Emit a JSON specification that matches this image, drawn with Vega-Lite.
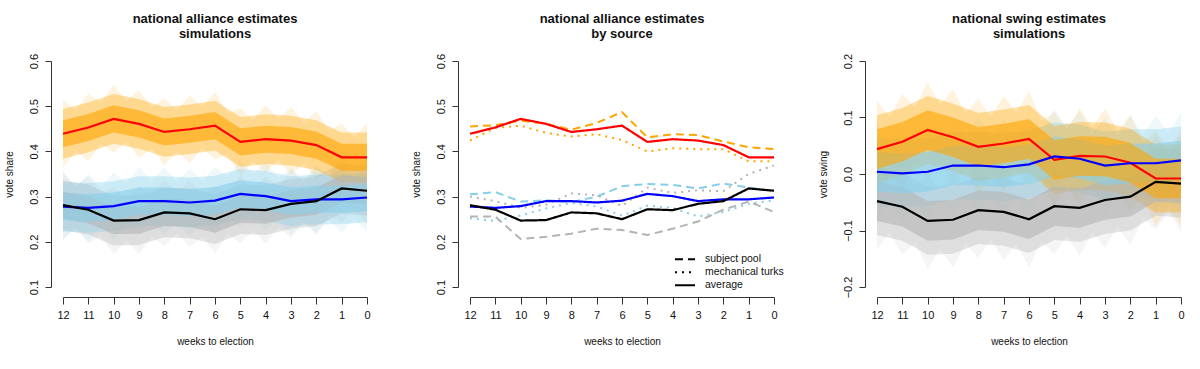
{
"$schema": "https://vega.github.io/schema/vega-lite/v6.json",
"background": "white",
"padding": {"left": 4, "top": 13, "right": 0, "bottom": 0},
"bounds": "flush",
"spacing": 103,
"config": {
  "view": {"stroke": null},
  "font": "Liberation Sans",
  "axis": {"labelFont": "Liberation Sans", "titleFont": "Liberation Sans", "labelFontSize": 11, "titleFontSize": 10, "titleFontWeight": "normal", "domainColor": "#333", "tickColor": "#333", "labelColor": "#111", "titleColor": "#111", "grid": false},
  "title": {"font": "Liberation Sans", "fontSize": 13, "fontWeight": "bold", "lineHeight": 15, "offset": 12, "color": "#111", "frame": "group", "anchor": "middle"}
},
"datasets": {
  "b1": [
    {"l":"o","s":"gray","w":12,"v":0.206,"v2":0.356},{"l":"o","s":"gray","w":11.5,"v":0.231,"v2":0.321},{"l":"o","s":"gray","w":11,"v":0.196,"v2":0.346},{"l":"o","s":"gray","w":10.5,"v":0.214,"v2":0.304},{"l":"o","s":"gray","w":10,"v":0.172,"v2":0.322},{"l":"o","s":"gray","w":9.5,"v":0.203,"v2":0.293},{"l":"o","s":"gray","w":9,"v":0.173,"v2":0.323},{"l":"o","s":"gray","w":8.5,"v":0.212,"v2":0.302},{"l":"o","s":"gray","w":8,"v":0.19,"v2":0.34},{"l":"o","s":"gray","w":7.5,"v":0.219,"v2":0.309},{"l":"o","s":"gray","w":7,"v":0.188,"v2":0.338},{"l":"o","s":"gray","w":6.5,"v":0.212,"v2":0.302},{"l":"o","s":"gray","w":6,"v":0.175,"v2":0.325},{"l":"o","s":"gray","w":5.5,"v":0.216,"v2":0.306},{"l":"o","s":"gray","w":5,"v":0.197,"v2":0.347},{"l":"o","s":"gray","w":4.5,"v":0.226,"v2":0.316},{"l":"o","s":"gray","w":4,"v":0.195,"v2":0.345},{"l":"o","s":"gray","w":3.5,"v":0.232,"v2":0.322},{"l":"o","s":"gray","w":3,"v":0.209,"v2":0.359},{"l":"o","s":"gray","w":2.5,"v":0.242,"v2":0.332},{"l":"o","s":"gray","w":2,"v":0.215,"v2":0.365},{"l":"o","s":"gray","w":1.5,"v":0.259,"v2":0.349},{"l":"o","s":"gray","w":1,"v":0.243,"v2":0.393},{"l":"o","s":"gray","w":0.5,"v":0.271,"v2":0.361},{"l":"o","s":"gray","w":0,"v":0.238,"v2":0.388},
    {"l":"o","s":"skyblue","w":12,"v":0.203,"v2":0.353},{"l":"o","s":"skyblue","w":11.5,"v":0.232,"v2":0.322},{"l":"o","s":"skyblue","w":11,"v":0.2,"v2":0.35},{"l":"o","s":"skyblue","w":10.5,"v":0.232,"v2":0.322},{"l":"o","s":"skyblue","w":10,"v":0.204,"v2":0.354},{"l":"o","s":"skyblue","w":9.5,"v":0.24,"v2":0.33},{"l":"o","s":"skyblue","w":9,"v":0.215,"v2":0.365},{"l":"o","s":"skyblue","w":8.5,"v":0.245,"v2":0.335},{"l":"o","s":"skyblue","w":8,"v":0.215,"v2":0.365},{"l":"o","s":"skyblue","w":7.5,"v":0.244,"v2":0.334},{"l":"o","s":"skyblue","w":7,"v":0.212,"v2":0.362},{"l":"o","s":"skyblue","w":6.5,"v":0.244,"v2":0.334},{"l":"o","s":"skyblue","w":6,"v":0.216,"v2":0.366},{"l":"o","s":"skyblue","w":5.5,"v":0.254,"v2":0.344},{"l":"o","s":"skyblue","w":5,"v":0.231,"v2":0.381},{"l":"o","s":"skyblue","w":4.5,"v":0.259,"v2":0.349},{"l":"o","s":"skyblue","w":4,"v":0.226,"v2":0.376},{"l":"o","s":"skyblue","w":3.5,"v":0.251,"v2":0.341},{"l":"o","s":"skyblue","w":3,"v":0.215,"v2":0.365},{"l":"o","s":"skyblue","w":2.5,"v":0.247,"v2":0.337},{"l":"o","s":"skyblue","w":2,"v":0.219,"v2":0.369},{"l":"o","s":"skyblue","w":1.5,"v":0.249,"v2":0.339},{"l":"o","s":"skyblue","w":1,"v":0.219,"v2":0.369},{"l":"o","s":"skyblue","w":0.5,"v":0.251,"v2":0.341},{"l":"o","s":"skyblue","w":0,"v":0.223,"v2":0.373},
    {"l":"o","s":"orange","w":12,"v":0.364,"v2":0.514},{"l":"o","s":"orange","w":11.5,"v":0.401,"v2":0.491},{"l":"o","s":"orange","w":11,"v":0.378,"v2":0.528},{"l":"o","s":"orange","w":10.5,"v":0.418,"v2":0.508},{"l":"o","s":"orange","w":10,"v":0.397,"v2":0.547},{"l":"o","s":"orange","w":9.5,"v":0.422,"v2":0.512},{"l":"o","s":"orange","w":9,"v":0.386,"v2":0.536},{"l":"o","s":"orange","w":8.5,"v":0.407,"v2":0.497},{"l":"o","s":"orange","w":8,"v":0.368,"v2":0.518},{"l":"o","s":"orange","w":7.5,"v":0.401,"v2":0.491},{"l":"o","s":"orange","w":7,"v":0.374,"v2":0.524},{"l":"o","s":"orange","w":6.5,"v":0.408,"v2":0.498},{"l":"o","s":"orange","w":6,"v":0.382,"v2":0.532},{"l":"o","s":"orange","w":5.5,"v":0.394,"v2":0.484},{"l":"o","s":"orange","w":5,"v":0.346,"v2":0.496},{"l":"o","s":"orange","w":4.5,"v":0.379,"v2":0.469},{"l":"o","s":"orange","w":4,"v":0.352,"v2":0.502},{"l":"o","s":"orange","w":3.5,"v":0.381,"v2":0.471},{"l":"o","s":"orange","w":3,"v":0.349,"v2":0.499},{"l":"o","s":"orange","w":2.5,"v":0.374,"v2":0.464},{"l":"o","s":"orange","w":2,"v":0.339,"v2":0.489},{"l":"o","s":"orange","w":1.5,"v":0.356,"v2":0.446},{"l":"o","s":"orange","w":1,"v":0.312,"v2":0.462},{"l":"o","s":"orange","w":0.5,"v":0.342,"v2":0.432},{"l":"o","s":"orange","w":0,"v":0.312,"v2":0.462},
    {"l":"m","s":"gray","w":12,"v":0.226,"v2":0.336},{"l":"m","s":"gray","w":11,"v":0.216,"v2":0.326},{"l":"m","s":"gray","w":10,"v":0.192,"v2":0.302},{"l":"m","s":"gray","w":9,"v":0.193,"v2":0.303},{"l":"m","s":"gray","w":8,"v":0.21,"v2":0.32},{"l":"m","s":"gray","w":7,"v":0.208,"v2":0.318},{"l":"m","s":"gray","w":6,"v":0.195,"v2":0.305},{"l":"m","s":"gray","w":5,"v":0.217,"v2":0.327},{"l":"m","s":"gray","w":4,"v":0.215,"v2":0.325},{"l":"m","s":"gray","w":3,"v":0.229,"v2":0.339},{"l":"m","s":"gray","w":2,"v":0.235,"v2":0.345},{"l":"m","s":"gray","w":1,"v":0.263,"v2":0.373},{"l":"m","s":"gray","w":0,"v":0.258,"v2":0.368},
    {"l":"m","s":"skyblue","w":12,"v":0.223,"v2":0.333},{"l":"m","s":"skyblue","w":11,"v":0.22,"v2":0.33},{"l":"m","s":"skyblue","w":10,"v":0.224,"v2":0.334},{"l":"m","s":"skyblue","w":9,"v":0.235,"v2":0.345},{"l":"m","s":"skyblue","w":8,"v":0.235,"v2":0.345},{"l":"m","s":"skyblue","w":7,"v":0.232,"v2":0.342},{"l":"m","s":"skyblue","w":6,"v":0.236,"v2":0.346},{"l":"m","s":"skyblue","w":5,"v":0.251,"v2":0.361},{"l":"m","s":"skyblue","w":4,"v":0.246,"v2":0.356},{"l":"m","s":"skyblue","w":3,"v":0.235,"v2":0.345},{"l":"m","s":"skyblue","w":2,"v":0.239,"v2":0.349},{"l":"m","s":"skyblue","w":1,"v":0.239,"v2":0.349},{"l":"m","s":"skyblue","w":0,"v":0.243,"v2":0.353},
    {"l":"m","s":"orange","w":12,"v":0.384,"v2":0.494},{"l":"m","s":"orange","w":11,"v":0.398,"v2":0.508},{"l":"m","s":"orange","w":10,"v":0.417,"v2":0.527},{"l":"m","s":"orange","w":9,"v":0.406,"v2":0.516},{"l":"m","s":"orange","w":8,"v":0.388,"v2":0.498},{"l":"m","s":"orange","w":7,"v":0.394,"v2":0.504},{"l":"m","s":"orange","w":6,"v":0.402,"v2":0.512},{"l":"m","s":"orange","w":5,"v":0.366,"v2":0.476},{"l":"m","s":"orange","w":4,"v":0.372,"v2":0.482},{"l":"m","s":"orange","w":3,"v":0.369,"v2":0.479},{"l":"m","s":"orange","w":2,"v":0.359,"v2":0.469},{"l":"m","s":"orange","w":1,"v":0.332,"v2":0.442},{"l":"m","s":"orange","w":0,"v":0.332,"v2":0.442},
    {"l":"c","s":"gray","w":12,"v":0.251,"v2":0.311},{"l":"c","s":"gray","w":11,"v":0.241,"v2":0.301},{"l":"c","s":"gray","w":10,"v":0.217,"v2":0.277},{"l":"c","s":"gray","w":9,"v":0.218,"v2":0.278},{"l":"c","s":"gray","w":8,"v":0.235,"v2":0.295},{"l":"c","s":"gray","w":7,"v":0.233,"v2":0.293},{"l":"c","s":"gray","w":6,"v":0.22,"v2":0.28},{"l":"c","s":"gray","w":5,"v":0.242,"v2":0.302},{"l":"c","s":"gray","w":4,"v":0.24,"v2":0.3},{"l":"c","s":"gray","w":3,"v":0.254,"v2":0.314},{"l":"c","s":"gray","w":2,"v":0.26,"v2":0.32},{"l":"c","s":"gray","w":1,"v":0.288,"v2":0.348},{"l":"c","s":"gray","w":0,"v":0.283,"v2":0.343},
    {"l":"c","s":"skyblue","w":12,"v":0.248,"v2":0.308},{"l":"c","s":"skyblue","w":11,"v":0.245,"v2":0.305},{"l":"c","s":"skyblue","w":10,"v":0.249,"v2":0.309},{"l":"c","s":"skyblue","w":9,"v":0.26,"v2":0.32},{"l":"c","s":"skyblue","w":8,"v":0.26,"v2":0.32},{"l":"c","s":"skyblue","w":7,"v":0.257,"v2":0.317},{"l":"c","s":"skyblue","w":6,"v":0.261,"v2":0.321},{"l":"c","s":"skyblue","w":5,"v":0.276,"v2":0.336},{"l":"c","s":"skyblue","w":4,"v":0.271,"v2":0.331},{"l":"c","s":"skyblue","w":3,"v":0.26,"v2":0.32},{"l":"c","s":"skyblue","w":2,"v":0.264,"v2":0.324},{"l":"c","s":"skyblue","w":1,"v":0.264,"v2":0.324},{"l":"c","s":"skyblue","w":0,"v":0.268,"v2":0.328},
    {"l":"c","s":"orange","w":12,"v":0.409,"v2":0.469},{"l":"c","s":"orange","w":11,"v":0.423,"v2":0.483},{"l":"c","s":"orange","w":10,"v":0.442,"v2":0.502},{"l":"c","s":"orange","w":9,"v":0.431,"v2":0.491},{"l":"c","s":"orange","w":8,"v":0.413,"v2":0.473},{"l":"c","s":"orange","w":7,"v":0.419,"v2":0.479},{"l":"c","s":"orange","w":6,"v":0.427,"v2":0.487},{"l":"c","s":"orange","w":5,"v":0.391,"v2":0.451},{"l":"c","s":"orange","w":4,"v":0.397,"v2":0.457},{"l":"c","s":"orange","w":3,"v":0.394,"v2":0.454},{"l":"c","s":"orange","w":2,"v":0.384,"v2":0.444},{"l":"c","s":"orange","w":1,"v":0.357,"v2":0.417},{"l":"c","s":"orange","w":0,"v":0.357,"v2":0.417}
  ],
  "b3": [
    {"l":"o","s":"gray","w":12,"v":-0.133,"v2":0.037},{"l":"o","s":"gray","w":11.5,"v":-0.103,"v2":-0.003},{"l":"o","s":"gray","w":11,"v":-0.143,"v2":0.027},{"l":"o","s":"gray","w":10.5,"v":-0.121,"v2":-0.021},{"l":"o","s":"gray","w":10,"v":-0.168,"v2":0.002},{"l":"o","s":"gray","w":9.5,"v":-0.132,"v2":-0.032},{"l":"o","s":"gray","w":9,"v":-0.166,"v2":0.004},{"l":"o","s":"gray","w":8.5,"v":-0.123,"v2":-0.023},{"l":"o","s":"gray","w":8,"v":-0.149,"v2":0.021},{"l":"o","s":"gray","w":7.5,"v":-0.116,"v2":-0.016},{"l":"o","s":"gray","w":7,"v":-0.152,"v2":0.018},{"l":"o","s":"gray","w":6.5,"v":-0.124,"v2":-0.024},{"l":"o","s":"gray","w":6,"v":-0.165,"v2":0.005},{"l":"o","s":"gray","w":5.5,"v":-0.119,"v2":-0.019},{"l":"o","s":"gray","w":5,"v":-0.142,"v2":0.028},{"l":"o","s":"gray","w":4.5,"v":-0.109,"v2":-0.009},{"l":"o","s":"gray","w":4,"v":-0.145,"v2":0.025},{"l":"o","s":"gray","w":3.5,"v":-0.103,"v2":-0.003},{"l":"o","s":"gray","w":3,"v":-0.131,"v2":0.039},{"l":"o","s":"gray","w":2.5,"v":-0.093,"v2":0.007},{"l":"o","s":"gray","w":2,"v":-0.125,"v2":0.045},{"l":"o","s":"gray","w":1.5,"v":-0.077,"v2":0.023},{"l":"o","s":"gray","w":1,"v":-0.099,"v2":0.071},{"l":"o","s":"gray","w":0.5,"v":-0.066,"v2":0.035},{"l":"o","s":"gray","w":0,"v":-0.102,"v2":0.068},
    {"l":"o","s":"skyblue","w":12,"v":-0.081,"v2":0.089},{"l":"o","s":"skyblue","w":11.5,"v":-0.048,"v2":0.053},{"l":"o","s":"skyblue","w":11,"v":-0.084,"v2":0.086},{"l":"o","s":"skyblue","w":10.5,"v":-0.048,"v2":0.053},{"l":"o","s":"skyblue","w":10,"v":-0.081,"v2":0.089},{"l":"o","s":"skyblue","w":9.5,"v":-0.041,"v2":0.06},{"l":"o","s":"skyblue","w":9,"v":-0.07,"v2":0.1},{"l":"o","s":"skyblue","w":8.5,"v":-0.035,"v2":0.065},{"l":"o","s":"skyblue","w":8,"v":-0.07,"v2":0.1},{"l":"o","s":"skyblue","w":7.5,"v":-0.037,"v2":0.064},{"l":"o","s":"skyblue","w":7,"v":-0.073,"v2":0.097},{"l":"o","s":"skyblue","w":6.5,"v":-0.036,"v2":0.065},{"l":"o","s":"skyblue","w":6,"v":-0.068,"v2":0.102},{"l":"o","s":"skyblue","w":5.5,"v":-0.026,"v2":0.074},{"l":"o","s":"skyblue","w":5,"v":-0.054,"v2":0.116},{"l":"o","s":"skyblue","w":4.5,"v":-0.021,"v2":0.079},{"l":"o","s":"skyblue","w":4,"v":-0.058,"v2":0.112},{"l":"o","s":"skyblue","w":3.5,"v":-0.029,"v2":0.071},{"l":"o","s":"skyblue","w":3,"v":-0.07,"v2":0.1},{"l":"o","s":"skyblue","w":2.5,"v":-0.033,"v2":0.067},{"l":"o","s":"skyblue","w":2,"v":-0.066,"v2":0.104},{"l":"o","s":"skyblue","w":1.5,"v":-0.031,"v2":0.069},{"l":"o","s":"skyblue","w":1,"v":-0.066,"v2":0.104},{"l":"o","s":"skyblue","w":0.5,"v":-0.029,"v2":0.072},{"l":"o","s":"skyblue","w":0,"v":-0.061,"v2":0.109},
    {"l":"o","s":"orange","w":12,"v":-0.041,"v2":0.129},{"l":"o","s":"orange","w":11.5,"v":0.001,"v2":0.101},{"l":"o","s":"orange","w":11,"v":-0.028,"v2":0.142},{"l":"o","s":"orange","w":10.5,"v":0.018,"v2":0.118},{"l":"o","s":"orange","w":10,"v":-0.007,"v2":0.163},{"l":"o","s":"orange","w":9.5,"v":0.022,"v2":0.122},{"l":"o","s":"orange","w":9,"v":-0.02,"v2":0.15},{"l":"o","s":"orange","w":8.5,"v":0.007,"v2":0.107},{"l":"o","s":"orange","w":8,"v":-0.037,"v2":0.133},{"l":"o","s":"orange","w":7.5,"v":0.001,"v2":0.101},{"l":"o","s":"orange","w":7,"v":-0.031,"v2":0.139},{"l":"o","s":"orange","w":6.5,"v":0.008,"v2":0.108},{"l":"o","s":"orange","w":6,"v":-0.023,"v2":0.147},{"l":"o","s":"orange","w":5.5,"v":-0.007,"v2":0.094},{"l":"o","s":"orange","w":5,"v":-0.06,"v2":0.11},{"l":"o","s":"orange","w":4.5,"v":-0.022,"v2":0.079},{"l":"o","s":"orange","w":4,"v":-0.053,"v2":0.117},{"l":"o","s":"orange","w":3.5,"v":-0.019,"v2":0.082},{"l":"o","s":"orange","w":3,"v":-0.054,"v2":0.116},{"l":"o","s":"orange","w":2.5,"v":-0.025,"v2":0.076},{"l":"o","s":"orange","w":2,"v":-0.065,"v2":0.105},{"l":"o","s":"orange","w":1.5,"v":-0.044,"v2":0.056},{"l":"o","s":"orange","w":1,"v":-0.093,"v2":0.077},{"l":"o","s":"orange","w":0.5,"v":-0.058,"v2":0.042},{"l":"o","s":"orange","w":0,"v":-0.093,"v2":0.077},
    {"l":"m","s":"gray","w":12,"v":-0.108,"v2":0.012},{"l":"m","s":"gray","w":11,"v":-0.118,"v2":0.002},{"l":"m","s":"gray","w":10,"v":-0.143,"v2":-0.023},{"l":"m","s":"gray","w":9,"v":-0.141,"v2":-0.021},{"l":"m","s":"gray","w":8,"v":-0.124,"v2":-0.004},{"l":"m","s":"gray","w":7,"v":-0.127,"v2":-0.007},{"l":"m","s":"gray","w":6,"v":-0.14,"v2":-0.02},{"l":"m","s":"gray","w":5,"v":-0.117,"v2":0.003},{"l":"m","s":"gray","w":4,"v":-0.12,"v2":0.0},{"l":"m","s":"gray","w":3,"v":-0.106,"v2":0.014},{"l":"m","s":"gray","w":2,"v":-0.1,"v2":0.02},{"l":"m","s":"gray","w":1,"v":-0.074,"v2":0.046},{"l":"m","s":"gray","w":0,"v":-0.077,"v2":0.043},
    {"l":"m","s":"skyblue","w":12,"v":-0.056,"v2":0.064},{"l":"m","s":"skyblue","w":11,"v":-0.059,"v2":0.061},{"l":"m","s":"skyblue","w":10,"v":-0.056,"v2":0.064},{"l":"m","s":"skyblue","w":9,"v":-0.045,"v2":0.075},{"l":"m","s":"skyblue","w":8,"v":-0.045,"v2":0.075},{"l":"m","s":"skyblue","w":7,"v":-0.048,"v2":0.072},{"l":"m","s":"skyblue","w":6,"v":-0.043,"v2":0.077},{"l":"m","s":"skyblue","w":5,"v":-0.029,"v2":0.091},{"l":"m","s":"skyblue","w":4,"v":-0.033,"v2":0.087},{"l":"m","s":"skyblue","w":3,"v":-0.045,"v2":0.075},{"l":"m","s":"skyblue","w":2,"v":-0.041,"v2":0.079},{"l":"m","s":"skyblue","w":1,"v":-0.041,"v2":0.079},{"l":"m","s":"skyblue","w":0,"v":-0.036,"v2":0.084},
    {"l":"m","s":"orange","w":12,"v":-0.016,"v2":0.104},{"l":"m","s":"orange","w":11,"v":-0.003,"v2":0.117},{"l":"m","s":"orange","w":10,"v":0.018,"v2":0.138},{"l":"m","s":"orange","w":9,"v":0.005,"v2":0.125},{"l":"m","s":"orange","w":8,"v":-0.012,"v2":0.108},{"l":"m","s":"orange","w":7,"v":-0.006,"v2":0.114},{"l":"m","s":"orange","w":6,"v":0.002,"v2":0.122},{"l":"m","s":"orange","w":5,"v":-0.035,"v2":0.085},{"l":"m","s":"orange","w":4,"v":-0.028,"v2":0.092},{"l":"m","s":"orange","w":3,"v":-0.029,"v2":0.091},{"l":"m","s":"orange","w":2,"v":-0.04,"v2":0.08},{"l":"m","s":"orange","w":1,"v":-0.068,"v2":0.052},{"l":"m","s":"orange","w":0,"v":-0.068,"v2":0.052},
    {"l":"c","s":"gray","w":12,"v":-0.083,"v2":-0.013},{"l":"c","s":"gray","w":11,"v":-0.093,"v2":-0.023},{"l":"c","s":"gray","w":10,"v":-0.118,"v2":-0.048},{"l":"c","s":"gray","w":9,"v":-0.116,"v2":-0.046},{"l":"c","s":"gray","w":8,"v":-0.099,"v2":-0.029},{"l":"c","s":"gray","w":7,"v":-0.102,"v2":-0.032},{"l":"c","s":"gray","w":6,"v":-0.115,"v2":-0.045},{"l":"c","s":"gray","w":5,"v":-0.092,"v2":-0.022},{"l":"c","s":"gray","w":4,"v":-0.095,"v2":-0.025},{"l":"c","s":"gray","w":3,"v":-0.081,"v2":-0.011},{"l":"c","s":"gray","w":2,"v":-0.075,"v2":-0.005},{"l":"c","s":"gray","w":1,"v":-0.049,"v2":0.021},{"l":"c","s":"gray","w":0,"v":-0.052,"v2":0.018},
    {"l":"c","s":"skyblue","w":12,"v":-0.031,"v2":0.039},{"l":"c","s":"skyblue","w":11,"v":-0.034,"v2":0.036},{"l":"c","s":"skyblue","w":10,"v":-0.031,"v2":0.039},{"l":"c","s":"skyblue","w":9,"v":-0.02,"v2":0.05},{"l":"c","s":"skyblue","w":8,"v":-0.02,"v2":0.05},{"l":"c","s":"skyblue","w":7,"v":-0.023,"v2":0.047},{"l":"c","s":"skyblue","w":6,"v":-0.018,"v2":0.052},{"l":"c","s":"skyblue","w":5,"v":-0.004,"v2":0.066},{"l":"c","s":"skyblue","w":4,"v":-0.008,"v2":0.062},{"l":"c","s":"skyblue","w":3,"v":-0.02,"v2":0.05},{"l":"c","s":"skyblue","w":2,"v":-0.016,"v2":0.054},{"l":"c","s":"skyblue","w":1,"v":-0.016,"v2":0.054},{"l":"c","s":"skyblue","w":0,"v":-0.011,"v2":0.059},
    {"l":"c","s":"orange","w":12,"v":0.009,"v2":0.079},{"l":"c","s":"orange","w":11,"v":0.022,"v2":0.092},{"l":"c","s":"orange","w":10,"v":0.043,"v2":0.113},{"l":"c","s":"orange","w":9,"v":0.03,"v2":0.1},{"l":"c","s":"orange","w":8,"v":0.013,"v2":0.083},{"l":"c","s":"orange","w":7,"v":0.019,"v2":0.089},{"l":"c","s":"orange","w":6,"v":0.027,"v2":0.097},{"l":"c","s":"orange","w":5,"v":-0.01,"v2":0.06},{"l":"c","s":"orange","w":4,"v":-0.003,"v2":0.067},{"l":"c","s":"orange","w":3,"v":-0.004,"v2":0.066},{"l":"c","s":"orange","w":2,"v":-0.015,"v2":0.055},{"l":"c","s":"orange","w":1,"v":-0.043,"v2":0.027},{"l":"c","s":"orange","w":0,"v":-0.043,"v2":0.027}
  ],
  "p2": [
    {"s":"orange","src":"subject pool","w":12,"v":0.455},{"s":"orange","src":"subject pool","w":11,"v":0.458},{"s":"orange","src":"subject pool","w":10,"v":0.468},{"s":"orange","src":"subject pool","w":9,"v":0.461},{"s":"orange","src":"subject pool","w":8,"v":0.448},{"s":"orange","src":"subject pool","w":7,"v":0.463},{"s":"orange","src":"subject pool","w":6,"v":0.487},{"s":"orange","src":"subject pool","w":5,"v":0.431},{"s":"orange","src":"subject pool","w":4,"v":0.438},{"s":"orange","src":"subject pool","w":3,"v":0.436},{"s":"orange","src":"subject pool","w":2,"v":0.422},{"s":"orange","src":"subject pool","w":1,"v":0.409},{"s":"orange","src":"subject pool","w":0,"v":0.405},
    {"s":"orange","src":"mechanical turks","w":12,"v":0.424},{"s":"orange","src":"mechanical turks","w":11,"v":0.452},{"s":"orange","src":"mechanical turks","w":10,"v":0.457},{"s":"orange","src":"mechanical turks","w":9,"v":0.441},{"s":"orange","src":"mechanical turks","w":8,"v":0.433},{"s":"orange","src":"mechanical turks","w":7,"v":0.438},{"s":"orange","src":"mechanical turks","w":6,"v":0.425},{"s":"orange","src":"mechanical turks","w":5,"v":0.4},{"s":"orange","src":"mechanical turks","w":4,"v":0.407},{"s":"orange","src":"mechanical turks","w":3,"v":0.405},{"s":"orange","src":"mechanical turks","w":2,"v":0.405},{"s":"orange","src":"mechanical turks","w":1,"v":0.378},{"s":"orange","src":"mechanical turks","w":0,"v":0.378},
    {"s":"skyblue","src":"subject pool","w":12,"v":0.305},{"s":"skyblue","src":"subject pool","w":11,"v":0.31},{"s":"skyblue","src":"subject pool","w":10,"v":0.289},{"s":"skyblue","src":"subject pool","w":9,"v":0.292},{"s":"skyblue","src":"subject pool","w":8,"v":0.288},{"s":"skyblue","src":"subject pool","w":7,"v":0.3},{"s":"skyblue","src":"subject pool","w":6,"v":0.323},{"s":"skyblue","src":"subject pool","w":5,"v":0.328},{"s":"skyblue","src":"subject pool","w":4,"v":0.326},{"s":"skyblue","src":"subject pool","w":3,"v":0.318},{"s":"skyblue","src":"subject pool","w":2,"v":0.329},{"s":"skyblue","src":"subject pool","w":1,"v":0.32},{"s":"skyblue","src":"subject pool","w":0,"v":0.312},
    {"s":"skyblue","src":"mechanical turks","w":12,"v":0.252},{"s":"skyblue","src":"mechanical turks","w":11,"v":0.246},{"s":"skyblue","src":"mechanical turks","w":10,"v":0.258},{"s":"skyblue","src":"mechanical turks","w":9,"v":0.274},{"s":"skyblue","src":"mechanical turks","w":8,"v":0.286},{"s":"skyblue","src":"mechanical turks","w":7,"v":0.278},{"s":"skyblue","src":"mechanical turks","w":6,"v":0.258},{"s":"skyblue","src":"mechanical turks","w":5,"v":0.28},{"s":"skyblue","src":"mechanical turks","w":4,"v":0.275},{"s":"skyblue","src":"mechanical turks","w":3,"v":0.256},{"s":"skyblue","src":"mechanical turks","w":2,"v":0.266},{"s":"skyblue","src":"mechanical turks","w":1,"v":0.284},{"s":"skyblue","src":"mechanical turks","w":0,"v":0.292},
    {"s":"gray","src":"subject pool","w":12,"v":0.256},{"s":"gray","src":"subject pool","w":11,"v":0.256},{"s":"gray","src":"subject pool","w":10,"v":0.206},{"s":"gray","src":"subject pool","w":9,"v":0.211},{"s":"gray","src":"subject pool","w":8,"v":0.218},{"s":"gray","src":"subject pool","w":7,"v":0.229},{"s":"gray","src":"subject pool","w":6,"v":0.226},{"s":"gray","src":"subject pool","w":5,"v":0.215},{"s":"gray","src":"subject pool","w":4,"v":0.229},{"s":"gray","src":"subject pool","w":3,"v":0.245},{"s":"gray","src":"subject pool","w":2,"v":0.271},{"s":"gray","src":"subject pool","w":1,"v":0.289},{"s":"gray","src":"subject pool","w":0,"v":0.266},
    {"s":"gray","src":"mechanical turks","w":12,"v":0.3},{"s":"gray","src":"mechanical turks","w":11,"v":0.29},{"s":"gray","src":"mechanical turks","w":10,"v":0.275},{"s":"gray","src":"mechanical turks","w":9,"v":0.282},{"s":"gray","src":"mechanical turks","w":8,"v":0.307},{"s":"gray","src":"mechanical turks","w":7,"v":0.303},{"s":"gray","src":"mechanical turks","w":6,"v":0.279},{"s":"gray","src":"mechanical turks","w":5,"v":0.32},{"s":"gray","src":"mechanical turks","w":4,"v":0.308},{"s":"gray","src":"mechanical turks","w":3,"v":0.314},{"s":"gray","src":"mechanical turks","w":2,"v":0.312},{"s":"gray","src":"mechanical turks","w":1,"v":0.35},{"s":"gray","src":"mechanical turks","w":0,"v":0.369},
    {"s":"red","src":"average","w":12,"v":0.439},{"s":"red","src":"average","w":11,"v":0.453},{"s":"red","src":"average","w":10,"v":0.472},{"s":"red","src":"average","w":9,"v":0.461},{"s":"red","src":"average","w":8,"v":0.443},{"s":"red","src":"average","w":7,"v":0.449},{"s":"red","src":"average","w":6,"v":0.457},{"s":"red","src":"average","w":5,"v":0.421},{"s":"red","src":"average","w":4,"v":0.427},{"s":"red","src":"average","w":3,"v":0.424},{"s":"red","src":"average","w":2,"v":0.414},{"s":"red","src":"average","w":1,"v":0.387},{"s":"red","src":"average","w":0,"v":0.387},
    {"s":"blue","src":"average","w":12,"v":0.278},{"s":"blue","src":"average","w":11,"v":0.275},{"s":"blue","src":"average","w":10,"v":0.279},{"s":"blue","src":"average","w":9,"v":0.29},{"s":"blue","src":"average","w":8,"v":0.29},{"s":"blue","src":"average","w":7,"v":0.287},{"s":"blue","src":"average","w":6,"v":0.291},{"s":"blue","src":"average","w":5,"v":0.306},{"s":"blue","src":"average","w":4,"v":0.301},{"s":"blue","src":"average","w":3,"v":0.29},{"s":"blue","src":"average","w":2,"v":0.294},{"s":"blue","src":"average","w":1,"v":0.294},{"s":"blue","src":"average","w":0,"v":0.298},
    {"s":"black","src":"average","w":12,"v":0.281},{"s":"black","src":"average","w":11,"v":0.271},{"s":"black","src":"average","w":10,"v":0.247},{"s":"black","src":"average","w":9,"v":0.248},{"s":"black","src":"average","w":8,"v":0.265},{"s":"black","src":"average","w":7,"v":0.263},{"s":"black","src":"average","w":6,"v":0.25},{"s":"black","src":"average","w":5,"v":0.272},{"s":"black","src":"average","w":4,"v":0.27},{"s":"black","src":"average","w":3,"v":0.284},{"s":"black","src":"average","w":2,"v":0.29},{"s":"black","src":"average","w":1,"v":0.318},{"s":"black","src":"average","w":0,"v":0.313}
  ],
  "avg3": [
    {"s":"red","w":12,"v":0.044},{"s":"red","w":11,"v":0.057},{"s":"red","w":10,"v":0.078},{"s":"red","w":9,"v":0.065},{"s":"red","w":8,"v":0.048},{"s":"red","w":7,"v":0.054},{"s":"red","w":6,"v":0.062},{"s":"red","w":5,"v":0.025},{"s":"red","w":4,"v":0.032},{"s":"red","w":3,"v":0.031},{"s":"red","w":2,"v":0.02},{"s":"red","w":1,"v":-0.008},{"s":"red","w":0,"v":-0.008},
    {"s":"blue","w":12,"v":0.004},{"s":"blue","w":11,"v":0.001},{"s":"blue","w":10,"v":0.004},{"s":"blue","w":9,"v":0.015},{"s":"blue","w":8,"v":0.015},{"s":"blue","w":7,"v":0.012},{"s":"blue","w":6,"v":0.017},{"s":"blue","w":5,"v":0.031},{"s":"blue","w":4,"v":0.027},{"s":"blue","w":3,"v":0.015},{"s":"blue","w":2,"v":0.019},{"s":"blue","w":1,"v":0.019},{"s":"blue","w":0,"v":0.024},
    {"s":"black","w":12,"v":-0.048},{"s":"black","w":11,"v":-0.058},{"s":"black","w":10,"v":-0.083},{"s":"black","w":9,"v":-0.081},{"s":"black","w":8,"v":-0.064},{"s":"black","w":7,"v":-0.067},{"s":"black","w":6,"v":-0.08},{"s":"black","w":5,"v":-0.057},{"s":"black","w":4,"v":-0.06},{"s":"black","w":3,"v":-0.046},{"s":"black","w":2,"v":-0.04},{"s":"black","w":1,"v":-0.014},{"s":"black","w":0,"v":-0.017}
  ]
},
"hconcat": [
  {
    "width": 304, "height": 226,
    "title": {"text": ["national alliance estimates", "simulations"]},
    "encoding": {
      "x": {"field": "w", "type": "quantitative", "scale": {"domain": [0, 12], "reverse": true, "nice": false, "zero": false}, "axis": {"title": "weeks to election", "values": [12,11,10,9,8,7,6,5,4,3,2,1,0], "format": "d", "offset": 10, "tickSize": 7, "labelPadding": 5, "titlePadding": 16, "labelFlush": false, "labelOverlap": false}},
      "y": {"field": "v", "type": "quantitative", "scale": {"domain": [0.1, 0.6], "nice": false, "zero": false}, "axis": {"title": "vote share", "values": [0.1,0.2,0.3,0.4,0.5,0.6], "format": ".1f", "offset": 12, "tickSize": 6, "labelAngle": -90, "labelAlign": "center", "labelBaseline": "bottom", "labelPadding": 6, "titlePadding": 14}},
      "color": {"field": "s", "type": "nominal", "scale": {"domain": ["gray","skyblue","orange","red","blue","black"], "range": ["#B4B4B4","#87CEEB","#FFA500","#FF0000","#0000FF","#000000"]}, "legend": null}
    },
    "layer": [
      {"data": {"name": "b1"}, "transform": [{"filter": "datum.l === 'o'"}], "mark": {"type": "area", "opacity": 0.13}, "encoding": {"y2": {"field": "v2"}}},
      {"data": {"name": "b1"}, "transform": [{"filter": "datum.l === 'm'"}], "mark": {"type": "area", "opacity": 0.35}, "encoding": {"y2": {"field": "v2"}}},
      {"data": {"name": "b1"}, "transform": [{"filter": "datum.l === 'c'"}], "mark": {"type": "area", "opacity": 0.6}, "encoding": {"y2": {"field": "v2"}}},
      {"data": {"name": "p2"}, "transform": [{"filter": "datum.src === 'average'"}], "mark": {"type": "line", "strokeWidth": 2.2}, "encoding": {}}
    ]
  },
  {
    "width": 304, "height": 226,
    "title": {"text": ["national alliance estimates", "by source"]},
    "data": {"name": "p2"},
    "encoding": {
      "x": {"field": "w", "type": "quantitative", "scale": {"domain": [0, 12], "reverse": true, "nice": false, "zero": false}, "axis": {"title": "weeks to election", "values": [12,11,10,9,8,7,6,5,4,3,2,1,0], "format": "d", "offset": 10, "tickSize": 7, "labelPadding": 5, "titlePadding": 16, "labelFlush": false, "labelOverlap": false}},
      "y": {"field": "v", "type": "quantitative", "scale": {"domain": [0.1, 0.6], "nice": false, "zero": false}, "axis": {"title": "vote share", "values": [0.1,0.2,0.3,0.4,0.5,0.6], "format": ".1f", "offset": 12, "tickSize": 6, "labelAngle": -90, "labelAlign": "center", "labelBaseline": "bottom", "labelPadding": 6, "titlePadding": 14}},
      "color": {"field": "s", "type": "nominal", "scale": {"domain": ["gray","skyblue","orange","red","blue","black"], "range": ["#A8A8A8","#87CEEB","#FFA500","#FF0000","#0000FF","#000000"]}, "legend": null},
      "strokeDash": {"field": "src", "type": "nominal", "scale": {"domain": ["subject pool", "mechanical turks", "average"], "range": [[8, 5], [2, 5], [1, 0]]}, "legend": {"title": null, "orient": "none", "legendX": 611, "legendY": 192, "symbolType": "stroke", "symbolStrokeColor": "black", "symbolStrokeWidth": 2, "symbolSize": 400, "labelFont": "Liberation Sans", "labelFontSize": 10.5, "labelColor": "#111", "labelOffset": 9, "clipHeight": 12.5, "rowPadding": 0, "padding": 0}}
    },
    "layer": [
      {"transform": [{"filter": "datum.src !== 'average'"}], "mark": {"type": "line", "strokeWidth": 2}, "encoding": {"detail": {"field": "src"}}},
      {"transform": [{"filter": "datum.src === 'average'"}], "mark": {"type": "line", "strokeWidth": 2.2}, "encoding": {}}
    ]
  },
  {
    "width": 304, "height": 226,
    "title": {"text": ["national swing estimates", "simulations"]},
    "encoding": {
      "x": {"field": "w", "type": "quantitative", "scale": {"domain": [0, 12], "reverse": true, "nice": false, "zero": false}, "axis": {"title": "weeks to election", "values": [12,11,10,9,8,7,6,5,4,3,2,1,0], "format": "d", "offset": 10, "tickSize": 7, "labelPadding": 5, "titlePadding": 16, "labelFlush": false, "labelOverlap": false}},
      "y": {"field": "v", "type": "quantitative", "scale": {"domain": [-0.2, 0.2], "nice": false, "zero": false}, "axis": {"title": "vote swing", "values": [-0.2,-0.1,0,0.1,0.2], "format": ".1f", "offset": 12, "tickSize": 6, "labelAngle": -90, "labelAlign": "center", "labelBaseline": "bottom", "labelPadding": 6, "titlePadding": 14}},
      "color": {"field": "s", "type": "nominal", "scale": {"domain": ["gray","skyblue","orange","red","blue","black"], "range": ["#B4B4B4","#87CEEB","#FFA500","#FF0000","#0000FF","#000000"]}, "legend": null}
    },
    "layer": [
      {"data": {"name": "b3"}, "transform": [{"filter": "datum.l === 'o'"}], "mark": {"type": "area", "opacity": 0.13}, "encoding": {"y2": {"field": "v2"}}},
      {"data": {"name": "b3"}, "transform": [{"filter": "datum.l === 'm'"}], "mark": {"type": "area", "opacity": 0.35}, "encoding": {"y2": {"field": "v2"}}},
      {"data": {"name": "b3"}, "transform": [{"filter": "datum.l === 'c'"}], "mark": {"type": "area", "opacity": 0.6}, "encoding": {"y2": {"field": "v2"}}},
      {"data": {"name": "avg3"}, "mark": {"type": "line", "strokeWidth": 2.2}, "encoding": {}},
      {"data": {"values": [{}]}, "mark": {"type": "rule", "strokeWidth": 2, "clip": false}, "encoding": {"x": {"datum": 12.48}, "x2": {"datum": -0.48}, "y": {"datum": 0}, "color": {"value": "#006400"}}}
    ]
  }
]
}
